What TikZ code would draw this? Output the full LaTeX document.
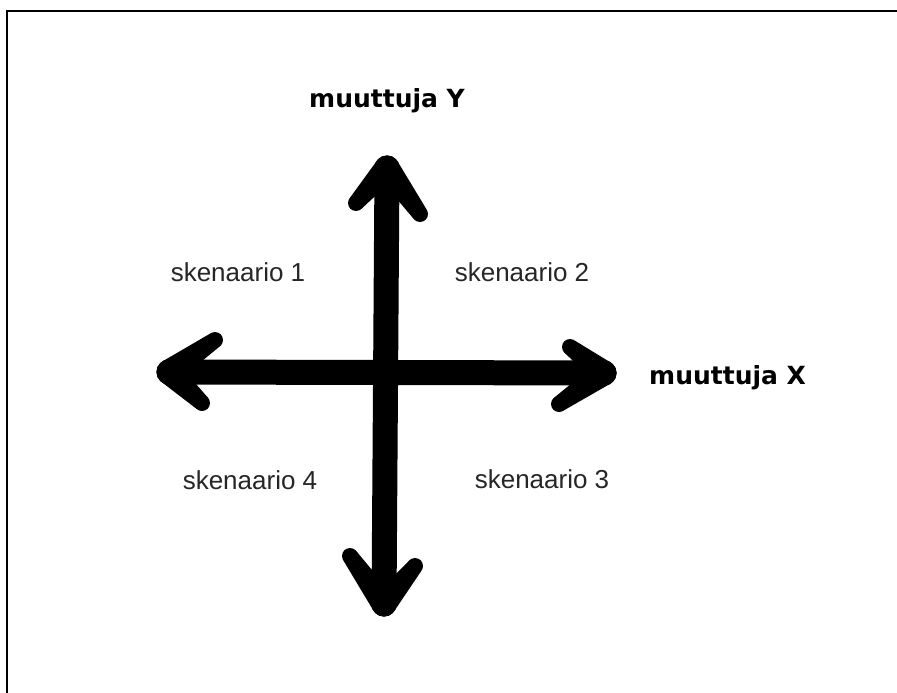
\documentclass[tikz,border=0pt]{standalone}
\usepackage{fontspec}
\setmainfont{Liberation Sans}
\newfontfamily\headfont{DejaVu Sans}
\usetikzlibrary{calc}
% tapered stroke: from #1 (width #3) to #2 (width #4), round ends
\newcommand\taperstroke[4]{%
  \fill[black] ($(#1)!#3/2!90:(#2)$) -- ($(#2)!#4/2!-90:(#1)$)
     -- ($(#2)!#4/2!90:(#1)$) -- ($(#1)!#3/2!-90:(#2)$) -- cycle;
  \fill[black] (#1) circle[radius=#3/2];
  \fill[black] (#2) circle[radius=#4/2];}
\begin{document}
\begin{tikzpicture}[x=1pt,y=-1pt,
  frameline/.style={line width=2.6pt,black},
  shaft/.style={line width=25pt,line cap=round,black},
  axislabel/.style={font=\headfont\fontsize{25}{30}\selectfont\bfseries,inner sep=0pt},
  quadlabel/.style={font=\fontsize{26}{31}\selectfont,text=black!85,inner sep=0pt}]
\useasboundingbox (0,0) rectangle (897,693);
\fill[white] (0,0) rectangle (897,693);
% open frame: left and top edges
\draw[frameline] (7,693) -- (7,11) -- (897,11);

% axis end points
\coordinate (yt) at (387,168);
\coordinate (yb) at (384,604);
\coordinate (xl) at (169,372);
\coordinate (xr) at (604,373);
% arrow head barb ends
\coordinate (ytl) at (356,203);
\coordinate (ytr) at (420,214);
\coordinate (ybl) at (350,556);
\coordinate (ybr) at (415,566);
\coordinate (xlu) at (215,340);
\coordinate (xld) at (202,403);
\coordinate (xru) at (570,347);
\coordinate (xrd) at (559,404);

% axes
\draw[shaft] (yt) -- (yb);
\draw[shaft] (xl) -- (xr);
% arrow heads
\taperstroke{yt}{ytl}{25pt}{16pt}
\taperstroke{yt}{ytr}{25pt}{16pt}
\taperstroke{yb}{ybl}{25pt}{16pt}
\taperstroke{yb}{ybr}{25pt}{16pt}
\taperstroke{xl}{xlu}{25pt}{16pt}
\taperstroke{xl}{xld}{25pt}{16pt}
\taperstroke{xr}{xru}{25pt}{16pt}
\taperstroke{xr}{xrd}{25pt}{16pt}

% axis names
\node[axislabel] (ylab) at (387,101) {muuttuja Y};
\node[axislabel,anchor=west] (xlab) at (649,378) {muuttuja X};

% quadrant names
\node[quadlabel] (s1) at (238,272) {skenaario 1};
\node[quadlabel] (s2) at (522,272) {skenaario 2};
\node[quadlabel] (s3) at (542,479) {skenaario 3};
\node[quadlabel] (s4) at (250,480) {skenaario 4};
\end{tikzpicture}
\end{document}
